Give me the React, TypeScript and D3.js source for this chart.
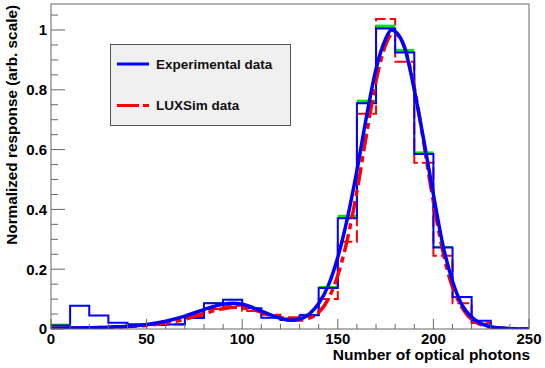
import React, { useEffect, useRef } from "react";
import * as d3 from "d3";

// bins of 10 optical photons, lower edges
const binStarts = [0, 10, 20, 30, 40, 50, 60, 70, 80, 90, 100, 110, 120, 130, 140, 150, 160, 170, 180, 190, 200, 210, 220, 230, 240];
const binWidth = 10;

// experimental histogram (blue)
const expHist = [0.012, 0.078, 0.045, 0.021, 0.016, 0.013, 0.015, 0.037, 0.086, 0.098, 0.069, 0.038, 0.03, 0.046, 0.137, 0.37, 0.755, 1.005, 0.925, 0.585, 0.273, 0.107, 0.028, 0.003, 0.001];
// error band tops (green)
const expBand = [0.018, 0.078, 0.045, 0.021, 0.016, 0.013, 0.015, 0.037, 0.09, 0.101, 0.069, 0.038, 0.03, 0.051, 0.144, 0.382, 0.767, 1.018, 0.937, 0.594, 0.278, 0.11, 0.028, 0.003, 0.001];
// LUXSim histogram (red dashed)
const simHist = [0.004, 0.005, 0.007, 0.01, 0.012, 0.013, 0.016, 0.041, 0.067, 0.078, 0.06, 0.048, 0.039, 0.042, 0.1, 0.292, 0.72, 1.037, 0.894, 0.556, 0.245, 0.086, 0.02, 0.004, 0.001];

// fit curves
const expFitX = [0, 10, 20, 30, 40, 50, 60, 70, 80, 90, 95, 100, 110, 120, 125, 130, 135, 140, 145, 150, 155, 160, 165, 170, 175, 178, 180, 185, 190, 195, 200, 205, 210, 215, 220, 225, 230, 235, 240, 250];
const expFitY = [0.002, 0.003, 0.004, 0.006, 0.009, 0.015, 0.026, 0.043, 0.065, 0.083, 0.086, 0.083, 0.06, 0.036, 0.029, 0.033, 0.05, 0.085, 0.145, 0.24, 0.37, 0.53, 0.71, 0.87, 0.97, 1.0, 0.995, 0.94, 0.8, 0.63, 0.45, 0.28, 0.16, 0.08, 0.04, 0.018, 0.008, 0.003, 0.001, 0];

const simFitX = [0, 20, 40, 50, 60, 70, 80, 90, 97, 105, 115, 125, 130, 135, 140, 145, 150, 155, 160, 165, 170, 175, 179, 183, 188, 193, 198, 203, 208, 213, 218, 223, 230, 240, 250];
const simFitY = [0.002, 0.004, 0.008, 0.012, 0.02, 0.033, 0.052, 0.068, 0.073, 0.066, 0.046, 0.032, 0.03, 0.036, 0.055, 0.1, 0.18, 0.3, 0.46, 0.65, 0.83, 0.95, 0.99, 0.97, 0.87, 0.7, 0.5, 0.32, 0.18, 0.095, 0.045, 0.02, 0.006, 0.001, 0];

const xTicks = [0, 50, 100, 150, 200, 250];
const yTicks = [0, 0.2, 0.4, 0.6, 0.8, 1];

const legendItems = [
  { label: "Experimental data", color: "#0000ff", dash: null },
  { label: "LUXSim data", color: "#ff0000", dash: "22 4 6 4" },
];

const font = "'Liberation Sans', Arial, Helvetica, sans-serif";

export default function App() {
  const ref = useRef<SVGSVGElement>(null);

  useEffect(() => {
    const svg = d3.select(ref.current);
    svg.selectAll("*").remove();

    const x = d3.scaleLinear().domain([0, 250]).range([51, 529]);
    const y = d3.scaleLinear().domain([0, 1.087]).range([329, 4]);

    svg.append("rect").attr("width", 545).attr("height", 368).attr("fill", "#fff");

    svg
      .append("clipPath")
      .attr("id", "plot-clip")
      .append("rect")
      .attr("x", x(0))
      .attr("y", y(1.087))
      .attr("width", x(250) - x(0))
      .attr("height", y(0) - y(1.087));

    const plot = svg.append("g").attr("clip-path", "url(#plot-clip)");

    const stepPoints = (vals: number[]) => {
      const pts: [number, number][] = [[binStarts[0], 0]];
      vals.forEach((v, i) => {
        pts.push([binStarts[i], v]);
        pts.push([binStarts[i] + binWidth, v]);
      });
      pts.push([binStarts[binStarts.length - 1] + binWidth, 0]);
      return pts;
    };

    const stepLine = d3
      .line<[number, number]>()
      .x((d) => x(d[0]))
      .y((d) => y(d[1]));

    // LUXSim histogram
    plot
      .append("path")
      .attr("d", stepLine(stepPoints(simHist)))
      .attr("fill", "none")
      .attr("stroke", "#ff0000")
      .attr("stroke-width", 2)
      .attr("stroke-dasharray", "12 4");

    // green error band on top of each experimental bin
    plot
      .append("g")
      .selectAll("rect")
      .data(binStarts)
      .join("rect")
      .attr("x", (d) => x(d))
      .attr("width", x(binWidth) - x(0))
      .attr("y", (_, i) => y(expBand[i]))
      .attr("height", (_, i) => Math.max(0, y(expHist[i]) - y(expBand[i])))
      .attr("fill", "#00e600");

    // experimental histogram
    plot
      .append("path")
      .attr("d", stepLine(stepPoints(expHist)))
      .attr("fill", "none")
      .attr("stroke", "#0000ff")
      .attr("stroke-width", 2);

    const curve = d3
      .line<number>()
      .curve(d3.curveMonotoneX);

    // LUXSim fit
    plot
      .append("path")
      .attr(
        "d",
        curve
          .x((_, i) => x(simFitX[i]))
          .y((d) => y(d))(simFitY)
      )
      .attr("fill", "none")
      .attr("stroke", "#ff0000")
      .attr("stroke-width", 3.5)
      .attr("stroke-dasharray", "18 5 6 5");

    // experimental fit
    plot
      .append("path")
      .attr(
        "d",
        curve
          .x((_, i) => x(expFitX[i]))
          .y((d) => y(d))(expFitY)
      )
      .attr("fill", "none")
      .attr("stroke", "#0000ff")
      .attr("stroke-width", 3.5);

    // frame
    svg
      .append("rect")
      .attr("x", x(0))
      .attr("y", y(1.087))
      .attr("width", x(250) - x(0))
      .attr("height", y(0) - y(1.087))
      .attr("fill", "none")
      .attr("stroke", "#666")
      .attr("stroke-width", 1);

    const ticks = svg.append("g").attr("stroke", "#666").attr("stroke-width", 1);
    d3.range(0, 251, 10).forEach((t) => {
      const major = t % 50 === 0;
      ticks
        .append("line")
        .attr("x1", x(t))
        .attr("x2", x(t))
        .attr("y1", y(0))
        .attr("y2", y(0) - (major ? 10 : 5));
    });
    d3.range(0, 21.5, 1).forEach((k) => {
      const t = k * 0.05;
      const major = k % 4 === 0;
      ticks
        .append("line")
        .attr("x1", x(0))
        .attr("x2", x(0) + (major ? 14 : 7))
        .attr("y1", y(t))
        .attr("y2", y(t));
    });

    svg
      .append("g")
      .selectAll("text")
      .data(xTicks)
      .join("text")
      .attr("x", (d) => x(d))
      .attr("y", 344)
      .attr("text-anchor", "middle")
      .attr("font-family", font)
      .attr("font-weight", "bold")
      .attr("font-size", 15)
      .text((d) => d);

    svg
      .append("g")
      .selectAll("text")
      .data(yTicks)
      .join("text")
      .attr("x", 47)
      .attr("y", (d) => y(d))
      .attr("dy", "0.36em")
      .attr("text-anchor", "end")
      .attr("font-family", font)
      .attr("font-weight", "bold")
      .attr("font-size", 15)
      .text((d) => d);

    svg
      .append("text")
      .attr("x", 530)
      .attr("y", 360)
      .attr("text-anchor", "end")
      .attr("font-family", font)
      .attr("font-weight", "bold")
      .attr("font-size", 15.5)
      .text("Number of optical photons");

    svg
      .append("text")
      .attr("transform", "translate(17, 5) rotate(-90)")
      .attr("text-anchor", "end")
      .attr("font-family", font)
      .attr("font-weight", "bold")
      .attr("font-size", 15.3)
      .text("Normalized response (arb. scale)");

    // legend
    const legend = svg.append("g");
    legend
      .append("rect")
      .attr("x", 110.5)
      .attr("y", 44.5)
      .attr("width", 180)
      .attr("height", 81)
      .attr("fill", "#f0f0f0")
      .attr("stroke", "#555")
      .attr("stroke-width", 1);
    legendItems.forEach((item, i) => {
      const ly = 64 + i * 41.5;
      legend
        .append("line")
        .attr("x1", 117)
        .attr("x2", 149)
        .attr("y1", ly)
        .attr("y2", ly)
        .attr("stroke", item.color)
        .attr("stroke-width", 3)
        .attr("stroke-dasharray", item.dash);
      legend
        .append("text")
        .attr("x", 156)
        .attr("y", ly + 4.8)
        .attr("font-family", font)
        .attr("font-weight", "bold")
        .attr("font-size", 13.5)
        .attr("fill", "#111")
        .text(item.label);
    });
  }, []);

  return (
    <svg
      ref={ref}
      width={545}
      height={368}
      style={{ position: "absolute", left: 0, top: 0 }}
    ></svg>
  );
}
